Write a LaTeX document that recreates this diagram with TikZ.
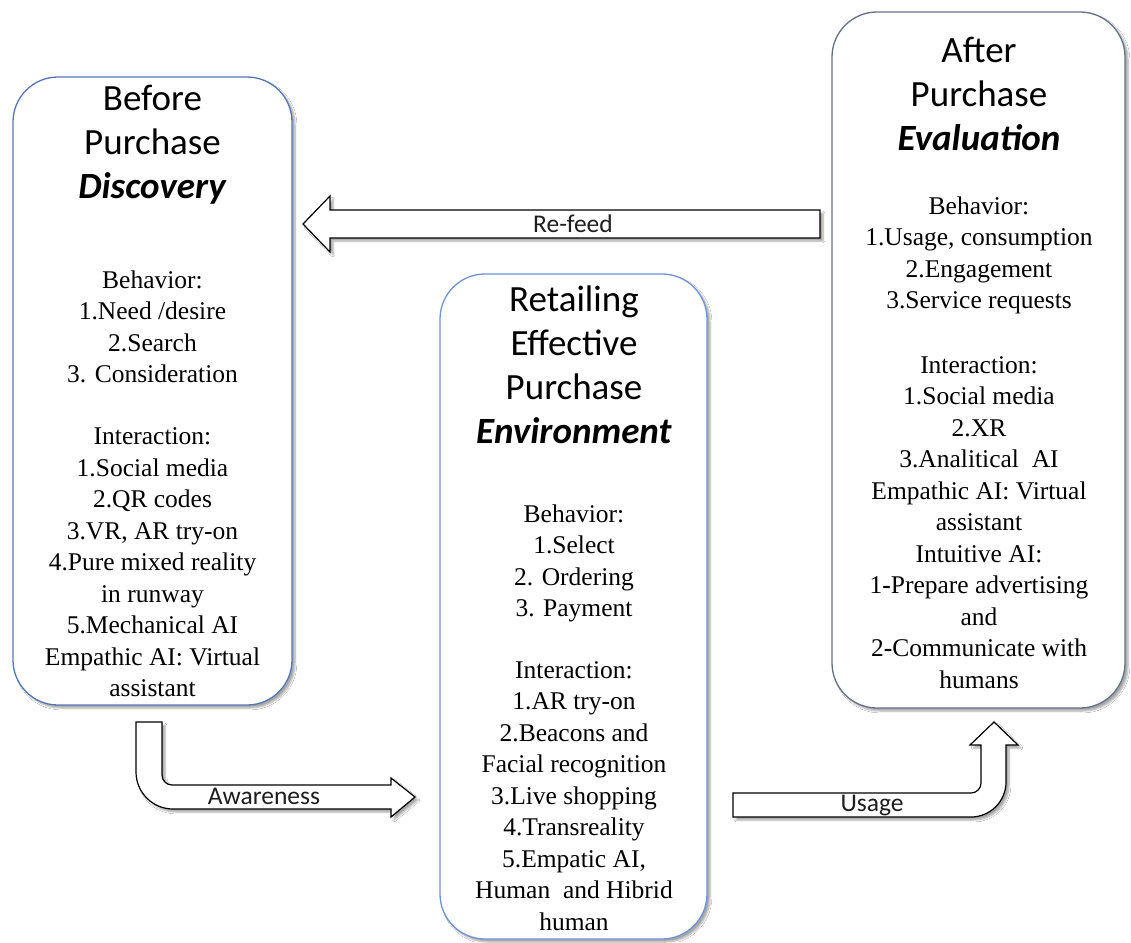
\documentclass[tikz,border=0pt]{standalone}
\usepackage{fontspec}
\setmainfont{Liberation Serif}
\newfontfamily\calibri{Carlito}
\usetikzlibrary{shadows.blur}
\definecolor{edgeA}{RGB}{84,120,182}
\definecolor{edgeB}{RGB}{112,146,214}
\definecolor{edgeC}{RGB}{100,114,134}
\definecolor{lbl}{RGB}{30,30,30}
\tikzset{
  stagebox/.style={draw=#1, line width=1.3pt, fill=white, rounded corners=45pt,
    blur shadow={shadow xshift=3pt, shadow yshift=-3pt, shadow blur steps=6, shadow opacity=35}},
  blockarrow/.style={draw=black, line width=1.2pt, fill=white, line join=miter,
    blur shadow={shadow xshift=3pt, shadow yshift=-3pt, shadow blur steps=6, shadow opacity=35}},
  titletext/.style={anchor=base, align=center, font=\calibri\fontsize{37}{44}\selectfont},
  bodytext/.style={anchor=base, align=center, font=\fontsize{25.5}{31.5}\selectfont},
  arrowtext/.style={anchor=base, text=lbl, font=\calibri\fontsize{25.5}{28}\selectfont, inner sep=0pt}
}
\begin{document}
\begin{tikzpicture}[x=1pt, y=-1pt]
\useasboundingbox (0,0) rectangle (1131,942);
\fill[white] (0,0) rectangle (1131,942);

% stage boxes
\node[stagebox=edgeA, minimum width=279pt, minimum height=628pt] (before) at (152.5,391) {};
\node[stagebox=edgeB, minimum width=267pt, minimum height=665pt] (during) at (573.5,606.5) {};
\node[stagebox=edgeC, minimum width=293pt, minimum height=696pt] (after) at (978.5,360) {};

% arrows
\coordinate (rf1) at (820,210);
\draw[blockarrow] (rf1) -- (330,210) -- (330,196) -- (303,224) -- (330,252) -- (330,238) -- (820,238) -- cycle;
\node[arrowtext] (refeed) at (573,232) {Re-feed};

\coordinate (aw1) at (136,722);
\draw[blockarrow] (aw1) -- (162,722) -- (162,775) .. controls (162,780.5) and (166.5,785) .. (172,785)
  -- (391,785) -- (391,778) -- (415,797) -- (391,817) -- (391,809) -- (173,809)
  .. controls (152.6,809) and (136,792.4) .. (136,772) -- cycle;
\node[arrowtext] (aware) at (264,804) {Awareness};

\coordinate (us1) at (733,793);
\draw[blockarrow] (us1) -- (971,793) .. controls (976.5,793) and (981,788.5) .. (981,783)
  -- (981,745) -- (970,745) -- (994,722) -- (1018,745) -- (1006,745) -- (1006,782)
  .. controls (1006,801.3) and (990.3,817) .. (971,817) -- (733,817) -- cycle;
\node[arrowtext] (usage) at (872,811) {Usage};

% left box text (anchor = baseline of last line)
\node[titletext] (t1) at (152.5,198) {Before\\Purchase\\\textbf{\textit{Discovery}}};
\node[bodytext] (b1) at (152.5,382.5) {Behavior:\\1.Need /desire\\2.Search\\3. Consideration};
\node[bodytext] (i1) at (152.5,696.5) {Interaction:\\1.Social media\\2.QR codes\\3.VR, AR try-on\\4.Pure mixed reality\\in runway\\5.Mechanical AI\\Empathic AI: Virtual\\assistant};

% middle box text
\node[titletext] (t2) at (574,443) {Retailing\\Effective\\Purchase\\\textbf{\textit{Environment}}};
\node[bodytext] (b2) at (574,616.5) {Behavior:\\1.Select\\2. Ordering\\3. Payment};
\node[bodytext] (i2) at (574,930) {Interaction:\\1.AR try-on\\2.Beacons and\\Facial recognition\\3.Live shopping\\4.Transreality\\5.Empatic AI,\\Human\ \ and Hibrid\\human};

% right box text
\node[titletext] (t3) at (979,150) {After\\Purchase\\\textbf{\textit{Evaluation}}};
\node[bodytext] (b3) at (979,308.5) {Behavior:\\1.Usage, consumption\\2.Engagement\\3.Service requests};
\node[bodytext] (i3) at (979,688) {Interaction:\\1.Social media\\2.XR\\3.Analitical\ \ AI\\Empathic AI: Virtual\\assistant\\Intuitive AI:\\1\textbf{-}Prepare advertising\\and\\2\textbf{-}Communicate with\\humans};
\end{tikzpicture}
\end{document}
